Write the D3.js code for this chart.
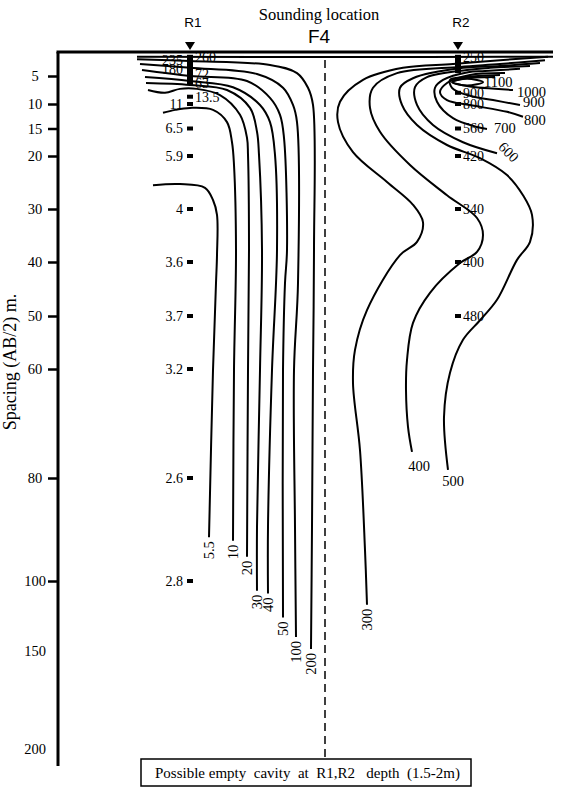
<!DOCTYPE html>
<html>
<head>
<meta charset="utf-8">
<script src="https://cdn.jsdelivr.net/npm/d3@7"></script>
<style>
  body { margin: 0; background: #fff; }
  text { font-family: 'Liberation Serif', 'Times New Roman', serif; fill: #000; }
  .sans { font-family: 'Liberation Sans', Arial, sans-serif; }
</style>
</head>
<body>
<div class="chart"></div>
<script>
// spacing (AB/2, m) ticks on the left axis
const depthTicks = [5, 10, 15, 20, 30, 40, 50, 60, 80, 100, 150, 200]
const depthTicksMarked = [5, 10, 15, 20, 30, 40, 50, 60, 80, 100]

// stations along the profile (m)
const stationNames = ['R1', 'R2']
const stationPos = [66, 200]
const sectionMid = 133.5

// apparent resistivity readings at R1
const r1Spacing = [1, 1.6, 3.6, 4.6, 6.2, 8.7, 10, 15, 20, 30, 40, 50, 60, 80, 100]
const r1Rho = [260, 235, 180, 72, 63, 13.5, 11, 6.5, 5.9, 4, 3.6, 3.7, 3.2, 2.6, 2.8]
const r1RightSide = [1, 4.6, 6.2, 8.7]
const r1Dense = [1.2, 6.6]

// apparent resistivity readings at R2
const r2Spacing = [1, 8, 10, 15, 20, 30, 40, 50]
const r2Rho = [250, 900, 800, 560, 420, 340, 400, 480]
const r2Dense = [0.7, 4.4]

// contour lines: [distance (m), AB/2 (m)]
const c250 = [[39.5, 1.0], [140, 1.05], [247.5, 1.0]]
const c5_5 = [[47.5, 25.5], [61, 25.3], [73.5, 26], [77.5, 28.3], [79.5, 31.1], [79.5, 38.7], [79, 43.9], [77.5, 60.2], [75.5, 91.5]]
const c10 = [[52.5, 11.8], [58.5, 11.2], [66, 10.8], [77.5, 11.2], [84.5, 13.7], [87, 17.5], [88, 21.7], [89, 37.7], [88, 60.2], [87.5, 92.2]]
const c20 = [[45, 7.5], [53.5, 8.0], [61, 7.3], [69.5, 7.3], [81, 8.4], [91, 12.2], [94.5, 16.7], [95, 19.8], [95.5, 37.7], [95, 60.2], [94.5, 95.3]]
const c30 = [[44, 6.25], [66, 6.6], [84.5, 7.5], [96, 10.8], [99.5, 15.6], [100.5, 19.8], [102, 37.7], [101, 60.2], [99.5, 89.5], [99.5, 107]]
const c40 = [[43.5, 5.2], [66, 5.9], [87.5, 7.0], [101, 10.2], [106, 13.7], [108.5, 19.8], [109.5, 37.7], [107, 60.2], [105, 89.5], [105, 109]]
const c50 = [[42, 3.75], [66, 5], [94.5, 5.9], [106, 8.9], [111, 12.2], [113, 16.7], [114.5, 37.7], [113.5, 43.9], [112.5, 60.2], [112.5, 126]]
const c100 = [[41, 2.5], [66, 3.3], [99.5, 4.6], [112.5, 7.1], [117.5, 10.2], [119.5, 13.7], [120, 43.9], [118, 60.2], [118.5, 89.5], [119, 140]]
const c200 = [[39.5, 1.5], [66, 1.9], [106, 2.7], [119.5, 4.4], [125, 7.1], [127.5, 10.2], [128, 37.7], [127.5, 60.2], [127, 89.5], [126.5, 148.6]]
const c300 = [[245, 1.0], [221, 1.7], [197.5, 2.5], [172.5, 3.3], [152.5, 5.7], [141, 9.6], [140, 13.7], [147.5, 19.3], [164.5, 24.9], [177.5, 29.2], [182.5, 32.5], [179.5, 36.2], [171, 38.7], [154.5, 48.9], [148.5, 56.4], [147.5, 62.6], [151, 74.9], [153.5, 94], [154.5, 117]]
const c400 = [[243.5, 1.7], [221, 2.5], [201, 3.1], [169.5, 4.4], [157.5, 7.1], [156, 10.8], [161, 15.6], [176, 21.7], [194.5, 27.4], [209.5, 31.7], [212.5, 34.9], [209.5, 38.1], [201, 40.2], [186, 45.7], [177.5, 51.3], [174.5, 58.3], [174, 63.9], [175, 70.6], [177, 75.2]]
const c500 = [[241, 2.3], [221, 2.9], [202.5, 3.3], [177.5, 5.4], [171, 7.1], [172, 10.2], [179.5, 14.3], [194.5, 18], [211, 20.4], [224.5, 23.6], [232.5, 27.4], [237, 31.1], [236, 36.2], [229.5, 39.6], [219.5, 47], [211, 50.8], [202.5, 54.5], [196, 60.7], [193, 68.8], [195, 78.5]]
const c600 = [[236, 2.9], [216, 3.3], [204.5, 3.75], [184.5, 5.2], [178.5, 7.0], [179.5, 10.2], [187.5, 14.3], [202.5, 17.5], [219.5, 19.5]]
const c700 = [[231, 3.5], [213.5, 3.96], [205, 4.2], [192.5, 5.7], [188.5, 7.1], [189.5, 9.6], [197.5, 12.9], [209.5, 14.7], [214.5, 15.1]]
const c800 = [[223.5, 4.4], [206, 4.8], [194.5, 6.25], [191, 7.9], [194.5, 9.3], [206, 10.2], [224.5, 11.6], [232.5, 12.6]]
const c900 = [[221, 4.8], [203.5, 5.2], [196, 5.7], [197, 7.1], [204.5, 8.4], [217.5, 9.3], [231, 10.2]]
const c1000 = [[218.5, 5.2], [202, 5.5], [197.5, 6.1], [204.5, 6.8], [227.5, 7.5]]
const c1100 = [[197, 6.1], [204.5, 5.5], [212.5, 6.1], [204.5, 6.7]]

const contourLevels = [250, 5.5, 10, 20, 30, 40, 50, 100, 200, 300, 400, 500, 600, 700, 800, 900, 1000]
const contourLines = [c250, c5_5, c10, c20, c30, c40, c50, c100, c200, c300, c400, c500, c600, c700, c800, c900, c1000]

const width = 563
const height = 789

// label placement per contour level (style only)
const labelStyle = {
  5.5: { dx: 0, dy: 4, rot: -90, anchor: 'end' },
  10: { dx: 0, dy: 4, rot: -90, anchor: 'end' },
  20: { dx: 0, dy: 4, rot: -90, anchor: 'end' },
  30: { dx: 0, dy: 4, rot: -90, anchor: 'end' },
  40: { dx: 0, dy: 4, rot: -90, anchor: 'end' },
  50: { dx: 0, dy: 4, rot: -90, anchor: 'end' },
  100: { dx: 0, dy: 4, rot: -90, anchor: 'end' },
  200: { dx: 0, dy: 4, rot: -90, anchor: 'end' },
  300: { dx: 0, dy: 4, rot: -90, anchor: 'end' },
  400: { dx: 7, dy: 14, rot: 0, anchor: 'middle' },
  500: { dx: 5, dy: 11, rot: 0, anchor: 'middle' },
  600: { dx: 4, dy: -9, rot: 45, anchor: 'start' },
  700: { dx: 7, dy: -1, rot: 0, anchor: 'start' },
  800: { dx: 1, dy: 3, rot: 0, anchor: 'start' },
  900: { dx: 3, dy: -3, rot: 0, anchor: 'start' },
  1000: { dx: 4, dy: 2, rot: 0, anchor: 'start' }
}

const x = d3.scaleLinear().domain([0, 250]).range([58, 558])
const y = d3
  .scaleLinear()
  .domain([0, 5, 10, 15, 20, 30, 40, 50, 60, 80, 100, 150, 200, 210])
  .range([52, 76, 104, 128.5, 156, 209, 262, 316, 369, 478, 581, 651, 749, 766])

const svg = d3
  .select('.chart')
  .append('svg')
  .attr('width', width)
  .attr('height', height)

// titles
svg.append('text')
  .attr('x', 319)
  .attr('y', 20)
  .attr('text-anchor', 'middle')
  .style('font-size', '16.5px')
  .text('Sounding location')

svg.append('text')
  .attr('class', 'sans')
  .attr('x', 319)
  .attr('y', 43)
  .attr('text-anchor', 'middle')
  .style('font-size', '19px')
  .text('F4')

stationNames.forEach((name, i) => {
  const sx = x(stationPos[i])
  svg.append('text')
    .attr('class', 'sans')
    .attr('x', sx + 3)
    .attr('y', 27)
    .attr('text-anchor', 'middle')
    .style('font-size', '13.5px')
    .text(name)
  svg.append('path')
    .attr('d', `M${sx - 5},42 L${sx + 5},42 L${sx},50 Z`)
    .attr('fill', '#000')
})

// dashed centre line
svg.append('line')
  .attr('x1', x(sectionMid))
  .attr('x2', x(sectionMid))
  .attr('y1', y(0) + 8)
  .attr('y2', 757)
  .attr('stroke', '#000')
  .attr('stroke-width', 1.5)
  .attr('stroke-dasharray', '8,5')

// contours
const line = d3
  .line()
  .x((d) => x(d[0]))
  .y((d) => y(d[1]))
  .curve(d3.curveCatmullRom.alpha(0.5))

const g = svg.append('g')

g.selectAll('path.contour')
  .data(contourLines)
  .enter()
  .append('path')
  .attr('class', 'contour')
  .attr('d', line)
  .attr('fill', 'none')
  .attr('stroke', '#000')
  .attr('stroke-width', 2)

g.append('path')
  .attr('d', line.curve(d3.curveCatmullRomClosed.alpha(0.5))(c1100))
  .attr('fill', 'none')
  .attr('stroke', '#000')
  .attr('stroke-width', 2)

contourLevels.forEach((level, i) => {
  const st = labelStyle[level]
  if (!st) return
  const pts = contourLines[i]
  const end = pts[pts.length - 1]
  g.append('text')
    .attr('transform', `translate(${x(end[0]) + st.dx},${y(end[1]) + st.dy}) rotate(${st.rot})`)
    .attr('text-anchor', st.anchor)
    .attr('dy', '0.35em')
    .style('font-size', '14.5px')
    .text(level)
})

const ellRight = d3.max(c1100, (d) => d[0])
g.append('text')
  .attr('x', x(ellRight) + 1)
  .attr('y', y(6.1))
  .attr('dy', '0.35em')
  .style('font-size', '14.5px')
  .text(1100)

// station readings
function drawStation(sx, spacing, rho, rightSide, dense) {
  svg.append('rect')
    .attr('x', x(sx) - 3)
    .attr('y', y(dense[0]))
    .attr('width', 6)
    .attr('height', y(dense[1]) - y(dense[0]))
    .attr('fill', '#000')
  spacing.forEach((s, i) => {
    svg.append('rect')
      .attr('x', x(sx) - 3)
      .attr('y', y(s) - 2)
      .attr('width', 6)
      .attr('height', 4)
      .attr('fill', '#000')
    const right = rightSide.includes(s)
    svg.append('text')
      .attr('x', right ? x(sx) + 5 : x(sx) - 7)
      .attr('y', y(s))
      .attr('dy', '0.35em')
      .attr('text-anchor', right ? 'start' : 'end')
      .style('font-size', '14px')
      .text(rho[i])
  })
}

drawStation(stationPos[0], r1Spacing, r1Rho, r1RightSide, r1Dense)
drawStation(stationPos[1], r2Spacing, r2Rho, r2Spacing, r2Dense)

// axes frame
const yAxis = d3
  .axisLeft(y)
  .tickValues(depthTicks)
  .tickSize(10)
  .tickSizeOuter(0)
  .tickFormat(d3.format('d'))

const ax = svg.append('g').attr('transform', `translate(${x(0)},0)`).call(yAxis)
ax.select('.domain').attr('stroke-width', 3).attr('d', `M0,${y(0)}V${y(210)}`)
ax.selectAll('.tick line')
  .attr('stroke-width', 2.5)
  .attr('opacity', (d) => (depthTicksMarked.includes(d) ? 1 : 0))
ax.selectAll('.tick text')
  .attr('x', -23)
  .attr('text-anchor', 'middle')
  .style('font-family', "'Liberation Serif', serif")
  .style('font-size', '14.5px')

svg.append('line')
  .attr('x1', x(0) - 1.5)
  .attr('x2', 553)
  .attr('y1', y(0))
  .attr('y2', y(0))
  .attr('stroke', '#000')
  .attr('stroke-width', 3)

svg.append('text')
  .attr('transform', 'translate(16,362) rotate(-90)')
  .attr('text-anchor', 'middle')
  .style('font-size', '18px')
  .text('Spacing (AB/2) m.')

// note box
const note = svg.append('g').attr('transform', 'translate(141,759)')
note.append('rect')
  .attr('width', 330)
  .attr('height', 27)
  .attr('fill', '#fff')
  .attr('stroke', '#000')
  .attr('stroke-width', 1.5)
note.append('text')
  .attr('x', 14)
  .attr('y', 18.5)
  .attr('xml:space', 'preserve')
  .style('font-size', '15px')
  .style('white-space', 'pre')
  .text('Possible empty  cavity  at  R1,R2   depth  (1.5-2m)')
</script>
</body>
</html>
